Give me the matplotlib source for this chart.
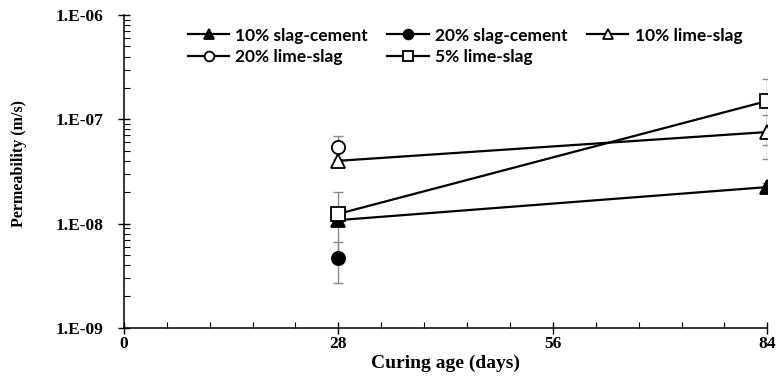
import numpy as np
import matplotlib
matplotlib.use('Agg')
import matplotlib.pyplot as plt
from matplotlib.ticker import FixedLocator, MultipleLocator, LogLocator, NullFormatter, FuncFormatter

# Curing age (days)
ages = [28, 84]

# Permeability (m/s), nan where no test
slag10 = [1.08e-8, 2.24e-8]
slag10_err = [0.1e-8, 0.2e-8]
slag20 = [4.7e-9, np.nan]
slag20_err = [2.0e-9, np.nan]
lime10 = [4.0e-8, 7.55e-8]
lime10_err = [0.2e-8, 3.4e-8]
lime20 = [5.4e-8, np.nan]
lime20_err = [1.5e-8, np.nan]
lime5 = [1.24e-8, 1.5e-7]
lime5_err = [0.76e-8, 0.93e-7]

series = [
	('10% slag-cement', slag10, slag10_err, '^', 'black'),
	('20% slag-cement', slag20, slag20_err, 'o', 'black'),
	('10% lime-slag', lime10, lime10_err, '^', 'white'),
	('20% lime-slag', lime20, lime20_err, 'o', 'white'),
	('5% lime-slag', lime5, lime5_err, 's', 'white'),
]

fig = plt.figure(figsize=(7.79, 3.76), dpi=100)
ax = fig.add_axes([0.159, 0.128, 0.826, 0.832])

handles = {}
for label, vals, errs, marker, face in series:
	ax.errorbar(ages, vals, yerr=errs, fmt='none', ecolor='#8a8a8a', elinewidth=1,
				capsize=3.5, capthick=1, zorder=1)
	h, = ax.plot(ages, vals, color='black', lw=1.6, marker=marker, markersize=9.5,
				 markerfacecolor=face, markeredgecolor='black', markeredgewidth=1.3, zorder=3)
	handles[label] = h

ax.set_yscale('log')
ax.set_ylim(1e-9, 1e-6)
ax.set_xlim(0, 84)

ax.xaxis.set_major_locator(FixedLocator([0, 28, 56, 84]))
ax.xaxis.set_minor_locator(MultipleLocator(5.6))
ax.yaxis.set_major_locator(LogLocator(base=10, numticks=10))
ax.yaxis.set_minor_locator(LogLocator(base=10, subs=np.arange(2, 10), numticks=10))
ax.yaxis.set_minor_formatter(NullFormatter())
ax.yaxis.set_major_formatter(FuncFormatter(lambda v, p: '1.E-%02d' % round(-np.log10(v))))

for s in ['top', 'right']:
	ax.spines[s].set_visible(False)
ax.spines['left'].set_linewidth(1.1)
ax.spines['bottom'].set_linewidth(1.1)

ax.tick_params(axis='both', which='major', direction='inout', length=9, width=1,
			   labelsize=12.5)
ax.tick_params(axis='x', which='major', pad=1)
ax.tick_params(axis='y', which='major', pad=10)
ax.tick_params(axis='both', which='minor', direction='in', length=4, width=0.8)
for t in ax.get_xticklabels() + ax.get_yticklabels():
	t.set_fontfamily('Liberation Serif')
	t.set_fontweight('bold')

ax.set_xlabel('Curing age (days)', fontsize=14, fontweight='bold',
			  family='Liberation Serif')
ax.xaxis.set_label_coords(0.5, -0.085, transform=ax.transAxes)
ax.xaxis.label.set_va('top')
ax.set_ylabel('Permeability (m/s)', fontsize=11.5, fontweight='bold',
			  family='Liberation Serif')
ax.yaxis.set_label_coords(-0.163, 0.527)
ax.yaxis.label.set_va('center')

order = ['10% slag-cement', '20% lime-slag', '20% slag-cement', '5% lime-slag', '10% lime-slag']
leg = ax.legend([handles[k] for k in order], order, ncol=3, frameon=False,
				loc='upper left', bbox_to_anchor=(0.075, 1.01), handlelength=2.4,
				handletextpad=0.35, columnspacing=1.1, labelspacing=0.3,
				prop={'family': 'Lato', 'weight': 'bold', 'size': 12.5})
for h in leg.legend_handles:
	h.set_markersize(7)

fig.savefig('out.png', dpi=100)
